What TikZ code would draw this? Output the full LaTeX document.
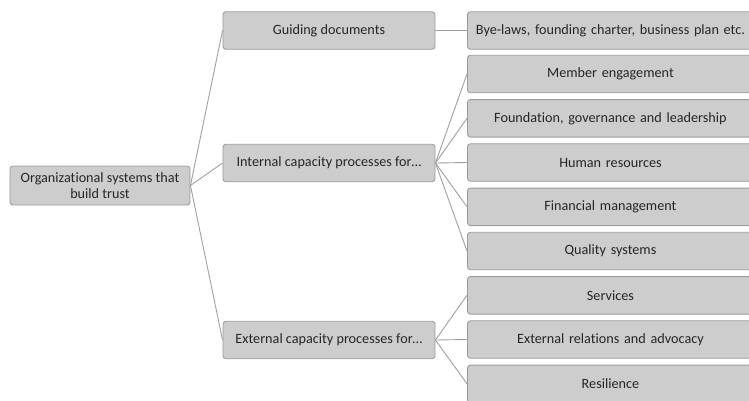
\documentclass[tikz,border=0pt]{standalone}
\usepackage{fontspec}
\setmainfont{Carlito}[Ligatures=NoCommon]
\definecolor{boxfill}{HTML}{CDCDCD}
\definecolor{boxline}{HTML}{9C9C9C}
\definecolor{linkgray}{HTML}{A0A0A0}
\definecolor{textgray}{HTML}{262626}
\begin{document}
\begin{tikzpicture}[x=1pt,y=-1pt,
  box/.style={draw=boxline, fill=boxfill, rounded corners=3pt, line width=0.9pt,
    text=textgray, font=\fontsize{14.2}{16}\selectfont, align=center, inner sep=0pt},
  midbox/.style={box, minimum width=212pt, minimum height=37.5pt},
  leafbox/.style={box, anchor=west, minimum width=286pt, minimum height=37.5pt, text width=280pt},
  link/.style={draw=linkgray, line width=0.9pt}]
\useasboundingbox (0,0) rectangle (749,400);
\clip (0,0) rectangle (749,400);

% root
\node[box, minimum width=180pt, minimum height=39pt] (root) at (100,185.5)
  {Organizational systems that\\build trust};

% second level
\node[midbox] (guide) at (329,30.5) {Guiding documents};
\node[midbox] (internal) at (329,163) {Internal capacity processes for\dots};
\node[midbox] (external) at (329,340) {External capacity processes for\dots};

% leaves
\node[leafbox] (bye) at (467,30.5) {Bye-laws, founding charter, business plan etc.};
\node[leafbox] (member) at (467,74) {Member engagement};
\node[leafbox] (found) at (467,118.3) {Foundation, governance and leadership};
\node[leafbox] (human) at (467,162.5) {Human resources};
\node[leafbox] (finance) at (467,206.8) {Financial management};
\node[leafbox] (quality) at (467,251) {Quality systems};
\node[leafbox] (services) at (467,295.3) {Services};
\node[leafbox] (relations) at (467,339.5) {External relations and advocacy};
\node[leafbox] (resil) at (467,383.8) {Resilience};

% connectors
\foreach \c in {guide,internal,external}
  \draw[link] (root.east) -- (\c.west);
\draw[link] (guide.east) -- (bye.west);
\foreach \c in {member,found,human,finance,quality}
  \draw[link] (internal.east) -- (\c.west);
\foreach \c in {services,relations,resil}
  \draw[link] (external.east) -- (\c.west);
\end{tikzpicture}
\end{document}
